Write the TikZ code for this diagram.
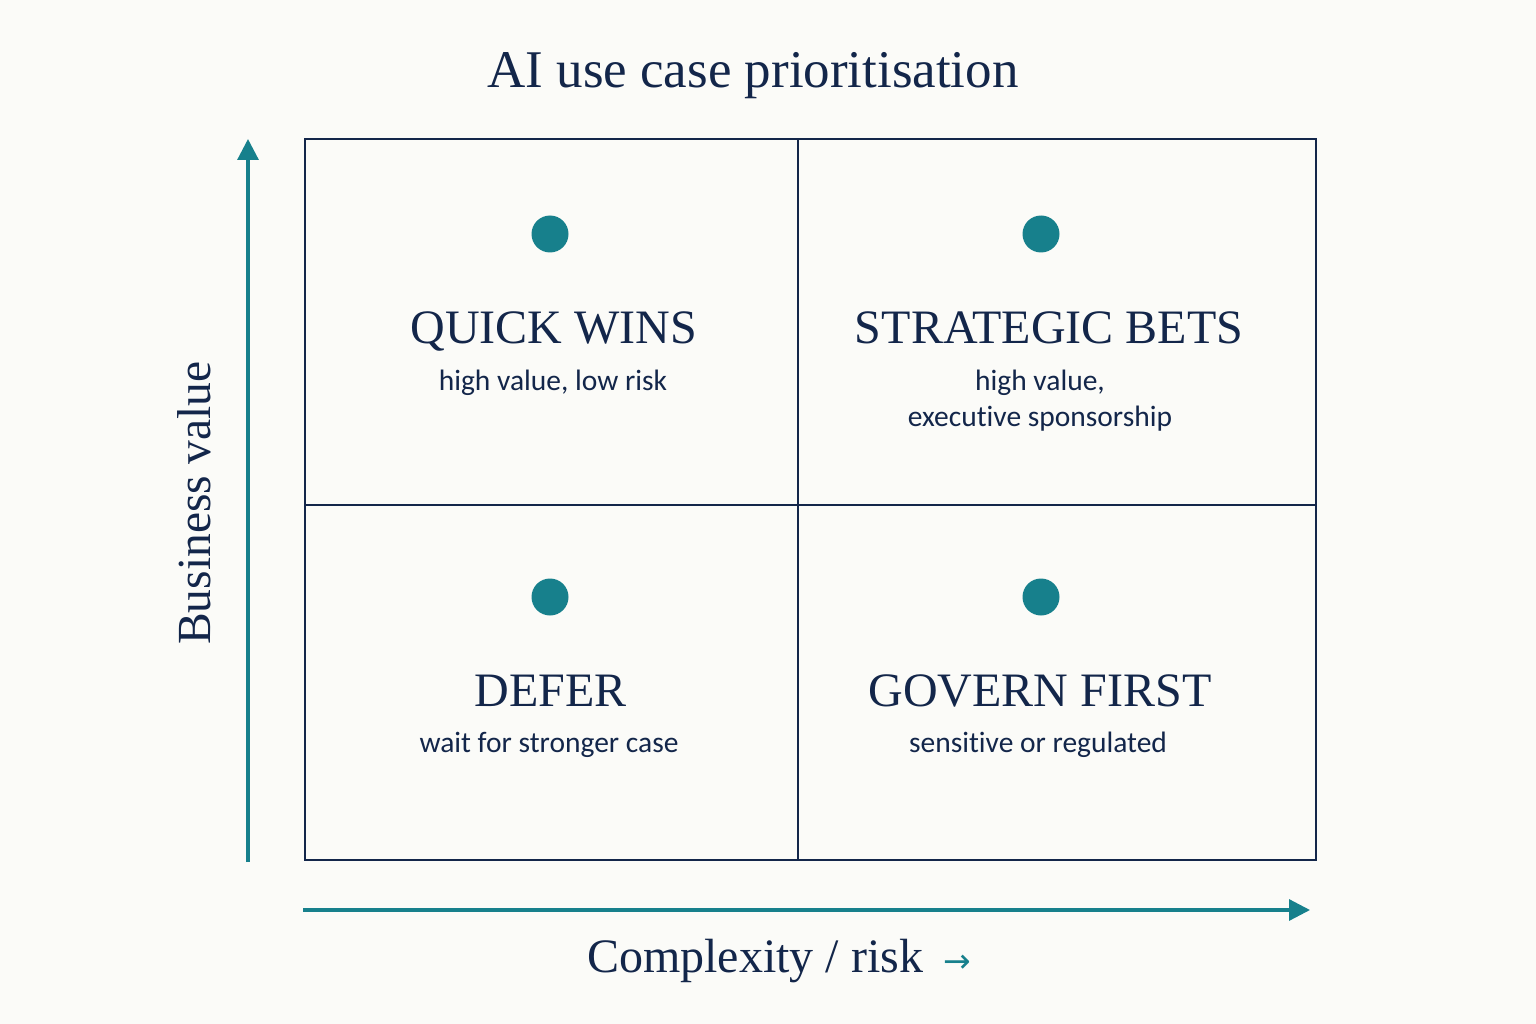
\documentclass[tikz,border=0pt]{standalone}
\usepackage{fontspec}
\setmainfont{Liberation Serif}
\newfontfamily\notefont{Carlito}[Ligatures=NoCommon]
\newfontfamily\symfont{DejaVu Sans}
\usetikzlibrary{positioning,arrows.meta}
\definecolor{paper}{HTML}{FBFBF8}
\definecolor{inkblue}{HTML}{13264A}
\definecolor{axisteal}{HTML}{17808C}

\begin{document}
\begin{tikzpicture}[
  x=1pt, y=-1pt,
  every node/.style={text=inkblue, inner sep=0pt, outer sep=0pt},
  heading/.style={font=\fontsize{48}{52}\selectfont, anchor=base},
  note/.style={font=\notefont\fontsize{29.5}{36}\selectfont, anchor=base, align=center},
  casedot/.style={circle, fill=axisteal, minimum size=37pt},
  frame/.style={draw=inkblue, line width=2pt},
  axis/.style={-{Triangle[length=21pt,width=21pt]}, line width=3.2pt, draw=axisteal}
]
\fill[paper] (0,0) rectangle (1536,1024);
\useasboundingbox (0,0) rectangle (1536,1024);

\node[anchor=base, font=\fontsize{53}{58}\selectfont] (title) at (753,88) {AI use case prioritisation};

% matrix frame
\coordinate (tl) at (305,139);
\coordinate (br) at (1316,860);
\coordinate (tm) at (798,139);
\coordinate (bm) at (798,860);
\coordinate (ml) at (305,505);
\coordinate (mr) at (1316,505);
\draw[frame] (tl) rectangle (br);
\draw[frame] (tm) -- (bm);
\draw[frame] (ml) -- (mr);

% quadrants
\node[casedot] (dotqw) at (550,234) {};
\node[casedot] (dotsb) at (1041,234) {};
\node[casedot] (dotdf) at (550,597) {};
\node[casedot] (dotgf) at (1041,597) {};

\node[heading] (quick) at (554,343) {QUICK WINS};
\node[note] (quicknote) at (553,390) {high value, low risk};
\node[heading] (strategic) at (1049,343) {STRATEGIC BETS};
\node[note] (strategicnote) at (1040,426) {high value,\\executive sponsorship};
\node[heading] (defer) at (551,706) {DEFER};
\node[note] (defernote) at (549,752) {wait for stronger case};
\node[heading] (govern) at (1040,706) {GOVERN FIRST};
\node[note] (governnote) at (1038,752) {sensitive or regulated};

% axes
\coordinate (ybottom) at (248,862);
\coordinate (ytop) at (248,139);
\coordinate (xleft) at (303,910);
\coordinate (xright) at (1310,910);
\draw[axis] (ybottom) -- (ytop);
\draw[axis] (xleft) -- (xright);

\node[rotate=90, anchor=base, font=\fontsize{47.5}{52}\selectfont] (yname) at (210,503) {Business value};
\node[anchor=base west, font=\fontsize{48}{52}\selectfont] (xname) at (587,972)
  {Complexity / risk\hspace{20pt}{\symfont\fontsize{33}{34}\selectfont\color{axisteal}→}};
\end{tikzpicture}
\end{document}
